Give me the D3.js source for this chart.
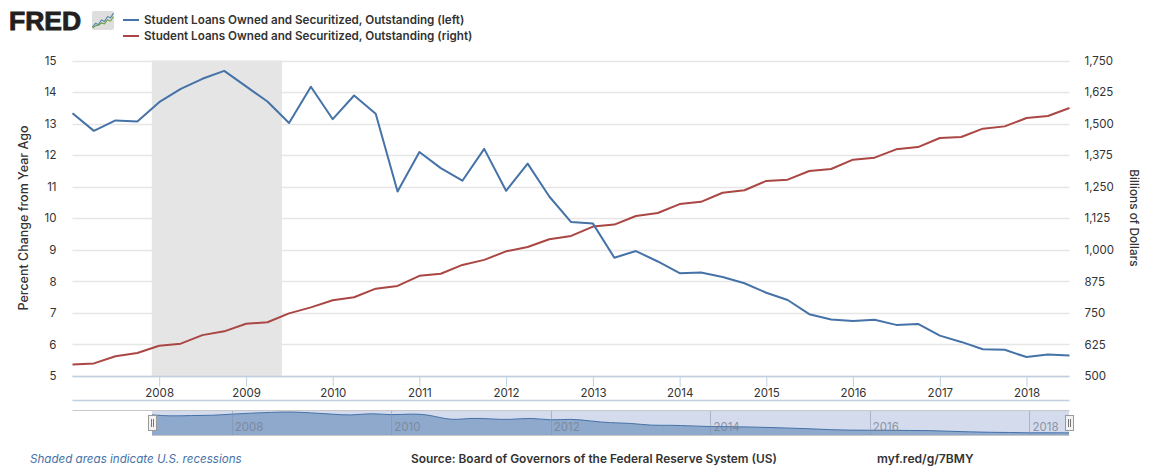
<!DOCTYPE html>
<html>
<head>
<meta charset="utf-8">
<script src="https://cdn.jsdelivr.net/npm/d3@7"></script>
<style>
  html, body { margin: 0; padding: 0; background: #fff; }
  svg { display: block; }
  text { font-family: "Inter", "Lato", sans-serif; }
  .domain { display: none; }
</style>
</head>
<body>
<svg id="chart" width="1168" height="470"></svg>
<script>
// quarterly, first value is 2007-01, last one is 2018-07
var startYear = 2007;
var changeValues = [
  13.33, 12.77, 13.10, 13.07,
  13.68, 14.10, 14.42, 14.67,
  14.18, 13.70, 13.02, 14.17,
  13.14, 13.89, 13.31, 10.85,
  12.10, 11.59, 11.19, 12.20,
  10.87, 11.73, 10.69, 9.88,
  9.83, 8.75, 8.96, 8.63,
  8.26, 8.28, 8.14, 7.94,
  7.64, 7.41, 6.96, 6.79,
  6.74, 6.78, 6.62, 6.65,
  6.28, 6.08, 5.85, 5.83,
  5.60, 5.68, 5.65
];
var billionValues = [
  546, 550, 578, 591,
  620, 628, 662, 677,
  707, 713, 748, 772,
  800, 812, 846, 857,
  897, 905, 940, 960,
  994, 1011, 1042, 1055,
  1092, 1100, 1134, 1146,
  1181, 1190, 1226, 1236,
  1273, 1278, 1312, 1320,
  1357, 1365, 1398, 1407,
  1443, 1447, 1480, 1489,
  1522, 1530, 1562
];
var leftTicks = [5, 6, 7, 8, 9, 10, 11, 12, 13, 14, 15];
var rightTicks = [500, 625, 750, 875, 1000, 1125, 1250, 1375, 1500, 1625, 1750];
var yearTicks = [2008, 2009, 2010, 2011, 2012, 2013, 2014, 2015, 2016, 2017, 2018];
var navYearTicks = [2008, 2010, 2012, 2014, 2016, 2018];
var recessionDates = [new Date(2007, 11, 1), new Date(2009, 5, 1)];

var legendLabels = [
  "Student Loans Owned and Securitized, Outstanding (left)",
  "Student Loans Owned and Securitized, Outstanding (right)"
];
var iconBlue = [0.5, 2, 1.5, 3.5, 2.8, 5, 4.5, 6.5];
var iconGreen = [0, 1, 1.2, 2.2, 1.8, 3.6, 3, 5];

var blue = "#4572a7", red = "#aa4643", textColor = "#333";

var dates = changeValues.map(function(d, i) {
  return new Date(startYear, i * 3, 1);
});
function yearDate(y) { return new Date(y, 0, 1); }

var svg = d3.select("#chart");
var plot = { left: 72.5, right: 1069.5, top: 60.5, bottom: 376 };

var x = d3.scaleTime().domain([dates[0], dates[dates.length - 1]]).range([plot.left, plot.right]);
var yLeft = d3.scaleLinear().domain([5, 15]).range([plot.bottom, plot.top]);
var yRight = d3.scaleLinear().domain([500, 1750]).range([plot.bottom, plot.top]);

// grid first, the recession band sits on top of it
svg.append("g").selectAll("line").data(leftTicks).enter().append("line")
  .attr("x1", plot.left).attr("x2", plot.right)
  .attr("y1", function(d) { return Math.round(yLeft(d)) + 0.5; })
  .attr("y2", function(d) { return Math.round(yLeft(d)) + 0.5; })
  .attr("stroke", "#e6e6e6").attr("stroke-width", 1.4);

svg.append("rect")
  .attr("x", x(recessionDates[0]))
  .attr("y", plot.top)
  .attr("width", x(recessionDates[1]) - x(recessionDates[0]))
  .attr("height", plot.bottom - plot.top)
  .attr("fill", "#e5e5e5");

// axes
var leftAxis = d3.axisLeft(yLeft).tickValues(leftTicks).tickSize(0).tickPadding(16);
var gl = svg.append("g").attr("transform", "translate(" + plot.left + ",0)").call(leftAxis);
gl.selectAll("text").attr("font-size", 11.5).attr("fill", textColor);

var rightAxis = d3.axisRight(yRight).tickValues(rightTicks).tickSize(0).tickPadding(15).tickFormat(d3.format(","));
var gr = svg.append("g").attr("transform", "translate(" + plot.right + ",0)").call(rightAxis);
gr.selectAll("text").attr("font-size", 11.5).attr("fill", textColor);

var bottomAxis = d3.axisBottom(x).tickValues(yearTicks.map(yearDate)).tickSize(10).tickPadding(2.5).tickFormat(d3.timeFormat("%Y"));
var gb = svg.append("g").attr("transform", "translate(0," + (plot.bottom + 0.5) + ")").call(bottomAxis);
gb.selectAll("text").attr("font-size", 11.5).attr("fill", textColor);
gb.selectAll("line").attr("stroke", "#c0d0e0");

[plot.bottom + 0.5, 400.5].forEach(function(y) {
  svg.append("line").attr("x1", plot.left).attr("x2", plot.right)
    .attr("y1", y).attr("y2", y).attr("stroke", "#c0d0e0").attr("stroke-width", 1.3);
});

// series
var leftLine = d3.line().x(function(d, i) { return x(dates[i]); }).y(function(d) { return yLeft(d); });
var rightLine = d3.line().x(function(d, i) { return x(dates[i]); }).y(function(d) { return yRight(d); });

svg.append("path").datum(billionValues).attr("d", rightLine)
  .attr("fill", "none").attr("stroke", red).attr("stroke-width", 2).attr("stroke-linejoin", "round");
svg.append("path").datum(changeValues).attr("d", leftLine)
  .attr("fill", "none").attr("stroke", blue).attr("stroke-width", 2).attr("stroke-linejoin", "round");

// axis titles
svg.append("text").attr("transform", "translate(28,218) rotate(-90)")
  .attr("text-anchor", "middle").attr("font-size", 12.5).attr("font-weight", 500).attr("fill", textColor)
  .text("Percent Change from Year Ago");
svg.append("text").attr("transform", "translate(1130,218) rotate(90)")
  .attr("text-anchor", "middle").attr("font-size", 11.8).attr("font-weight", 500).attr("fill", textColor)
  .text("Billions of Dollars");

// navigator
var nav = { left: 152, right: 1069, top: 410.5, bottom: 435.5 };
var xNav = d3.scaleTime().domain(x.domain()).range([nav.left, nav.right]);
var yNav = d3.scaleLinear().domain([4.5, 15]).range([nav.bottom, 411]);

svg.append("rect").attr("x", nav.left).attr("y", nav.top)
  .attr("width", nav.right - nav.left).attr("height", nav.bottom - nav.top).attr("fill", "#d3dbed");

var navArea = d3.area().curve(d3.curveBasis)
  .x(function(d, i) { return xNav(dates[i]); })
  .y0(nav.bottom).y1(function(d) { return yNav(d); });
var navLine = d3.line().curve(d3.curveBasis)
  .x(function(d, i) { return xNav(dates[i]); })
  .y(function(d) { return yNav(d); });

svg.append("path").datum(changeValues).attr("d", navArea).attr("fill", "#8fa9cd");
svg.append("path").datum(changeValues).attr("d", navLine)
  .attr("fill", "none").attr("stroke", blue).attr("stroke-width", 1);

var navTicks = svg.append("g").selectAll("g").data(navYearTicks).enter().append("g");
navTicks.append("line")
  .attr("x1", function(d) { return Math.round(xNav(yearDate(d))) + 0.5; })
  .attr("x2", function(d) { return Math.round(xNav(yearDate(d))) + 0.5; })
  .attr("y1", nav.top).attr("y2", nav.bottom)
  .attr("stroke", "#7f8fa8").attr("stroke-opacity", 0.5);
navTicks.append("text")
  .attr("x", function(d) { return xNav(yearDate(d)) + 3; })
  .attr("y", 431)
  .attr("font-size", 11.5).attr("fill", "#77808f").attr("fill-opacity", 0.8)
  .text(function(d) { return d; });

svg.append("line").attr("x1", plot.left).attr("x2", plot.right).attr("y1", nav.top).attr("y2", nav.top).attr("stroke", "#c8c8c8");
svg.append("line").attr("x1", nav.left).attr("x2", plot.right).attr("y1", nav.bottom).attr("y2", nav.bottom).attr("stroke", "#c8c8c8");

[nav.left + 1, nav.right + 1].forEach(function(hx) {
  var h = svg.append("g").attr("transform", "translate(" + Math.round(hx) + ",415)");
  h.append("rect").attr("x", -4.5).attr("y", 0.5).attr("width", 8).attr("height", 15)
    .attr("fill", "#f2f2f2").attr("stroke", "#999");
  [-1.5, 0.5].forEach(function(dx) {
    h.append("line").attr("x1", dx).attr("x2", dx).attr("y1", 4).attr("y2", 12).attr("stroke", "#777");
  });
});

// legend
legendLabels.forEach(function(label, i) {
  var y = 20 + i * 16;
  svg.append("line").attr("x1", 123).attr("x2", 139).attr("y1", y).attr("y2", y)
    .attr("stroke", i === 0 ? blue : red).attr("stroke-width", 2);
  svg.append("text").attr("x", 144).attr("y", y + 4)
    .attr("font-size", 11.65).attr("font-weight", 600).attr("fill", textColor).text(label);
});

// logo
svg.append("text").attr("x", 9).attr("y", 30)
  .attr("font-size", 26.5).attr("font-weight", 700).attr("fill", "#231f20")
  .attr("stroke", "#231f20").attr("stroke-width", 0.9)
  .style("font-family", "'Liberation Sans', sans-serif").attr("letter-spacing", 0)
  .text("FRED");
var icon = svg.append("g").attr("transform", "translate(92,11)");
icon.append("rect").attr("width", 22).attr("height", 19).attr("rx", 2).attr("fill", "#dedede");
var ix = d3.scaleLinear().domain([0, 7]).range([0.5, 21.5]);
var iy = d3.scaleLinear().domain([0, 7]).range([17, 1]);
var iconLine = d3.line().x(function(d, i) { return ix(i); }).y(function(d) { return iy(d); });
icon.append("path").datum(iconBlue).attr("d", iconLine).attr("fill", "none").attr("stroke", "#4f86aa").attr("stroke-width", 1.1);
icon.append("path").datum(iconGreen).attr("d", iconLine).attr("fill", "none").attr("stroke", "#6f9f3f").attr("stroke-width", 1.1);

// footer
svg.append("text").attr("x", 30).attr("y", 463)
  .attr("font-size", 11.6).attr("font-style", "italic").attr("fill", blue)
  .text("Shaded areas indicate U.S. recessions");
svg.append("text").attr("x", 411).attr("y", 463)
  .attr("font-size", 11.9).attr("font-weight", 600).attr("fill", textColor)
  .text("Source: Board of Governors of the Federal Reserve System (US)");
svg.append("text").attr("x", 877).attr("y", 463)
  .attr("font-size", 12.1).attr("font-weight", 600).attr("fill", textColor)
  .text("myf.red/g/7BMY");
</script>
</body>
</html>
